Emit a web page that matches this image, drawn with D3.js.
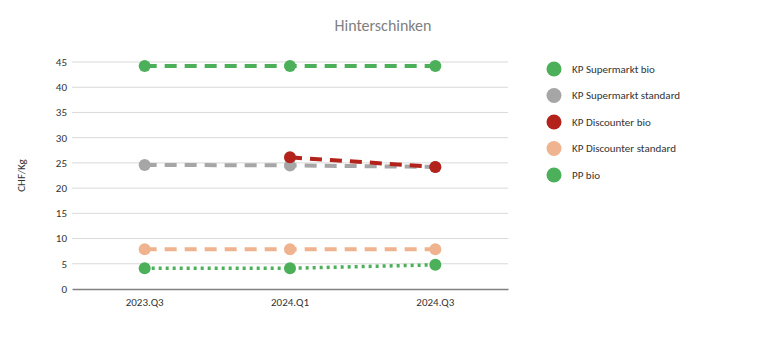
<!DOCTYPE html>
<html>
<head>
<meta charset="utf-8">
<script src="https://cdn.jsdelivr.net/npm/d3@7"></script>
<style>
  body { margin: 0; background: #fff; }
  text { font-family: Carlito, Calibri, "Liberation Sans", "Open Sans", sans-serif; }
</style>
</head>
<body>
<div id="chart"></div>
<script>
const quarters = ["2023.Q3", "2024.Q1", "2024.Q3"];
const seriesNames = ["KP Supermarkt bio", "KP Supermarkt standard", "KP Discounter bio", "KP Discounter standard", "PP bio"];
const supermarktBio = [44.2, 44.2, 44.2];
const supermarktStd = [24.6, 24.5, 24.2];
const discounterBio = [null, 26.1, 24.2];
const discounterStd = [7.9, 7.9, 7.9];
const ppBio = [4.1, 4.1, 4.8];
const yTicks = [0, 5, 10, 15, 20, 25, 30, 35, 40, 45];

const colors = ["#4caf5a", "#a6a6a6", "#b3221b", "#efb48f", "#4caf5a"];
const dashes = ["12,8", "12,8", "12,8", "12,8", "3,4"];

const series = [supermarktBio, supermarktStd, discounterBio, discounterStd, ppBio].map((vals, i) => ({
  name: seriesNames[i],
  color: colors[i],
  dash: dashes[i],
  values: vals.map((v, j) => ({q: quarters[j], v}))
}));

const width = 768, height = 351;
const margin = {top: 62, right: 260, bottom: 62, left: 72};

const svg = d3.select("#chart").append("svg")
  .attr("width", width).attr("height", height);

const x = d3.scaleBand().domain(quarters).range([margin.left, width - margin.right]);
const y = d3.scaleLinear().domain([0, 45]).range([height - margin.bottom, margin.top]);

// grid
svg.append("g")
  .selectAll("line")
  .data(yTicks.filter(d => d > 0))
  .join("line")
    .attr("x1", margin.left).attr("x2", width - margin.right)
    .attr("y1", d => y(d)).attr("y2", d => y(d))
    .attr("stroke", "#d9d9d9").attr("stroke-width", 1);

// y tick labels
svg.append("g")
  .selectAll("text")
  .data(yTicks)
  .join("text")
    .attr("x", margin.left - 5)
    .attr("y", d => y(d))
    .attr("dy", "0.35em")
    .attr("text-anchor", "end")
    .attr("font-size", 11)
    .attr("fill", "#333")
    .text(d => d);

// x axis
const xAxis = svg.append("g")
  .attr("transform", `translate(0, ${y(0)})`)
  .call(d3.axisBottom(x).tickSize(0).tickPadding(9));
xAxis.select(".domain").attr("stroke", "#808080").attr("stroke-width", 1.3);
xAxis.selectAll("text").attr("font-size", 11).attr("fill", "#333")
  .style("font-family", "Carlito, Calibri, 'Liberation Sans', sans-serif");

// title
svg.append("text")
  .attr("x", 383).attr("y", 31)
  .attr("text-anchor", "middle")
  .attr("font-size", 16)
  .attr("fill", "#7f7f7f")
  .text("Hinterschinken");

// y label
svg.append("text")
  .attr("transform", `translate(25, ${y(22.5)}) rotate(-90)`)
  .attr("text-anchor", "middle")
  .attr("font-size", 11)
  .attr("fill", "#333")
  .text("CHF/Kg");

const line = d3.line()
  .defined(d => d.v != null)
  .x(d => x(d.q) + x.bandwidth() / 2)
  .y(d => y(d.v));

const g = svg.append("g");
series.forEach(s => {
  g.append("path")
    .datum(s.values)
    .attr("fill", "none")
    .attr("stroke", s.color)
    .attr("stroke-width", s.dash === "3,4" ? 3.5 : 4)
    .attr("stroke-dasharray", s.dash)
    .attr("d", line);
  g.selectAll(null)
    .data(s.values.filter(d => d.v != null))
    .join("circle")
      .attr("cx", d => x(d.q) + x.bandwidth() / 2)
      .attr("cy", d => y(d.v))
      .attr("r", 6)
      .attr("fill", s.color);
});

// legend
const legend = svg.append("g").attr("transform", "translate(554, 69)");
const item = legend.selectAll("g")
  .data(series)
  .join("g")
    .attr("transform", (d, i) => `translate(0, ${i * 26.5})`);
item.append("circle").attr("r", 7.5).attr("fill", d => d.color);
item.append("text")
  .attr("x", 18).attr("dy", "0.35em")
  .attr("font-size", 11)
  .attr("fill", "#333")
  .text(d => d.name);
</script>
</body>
</html>
